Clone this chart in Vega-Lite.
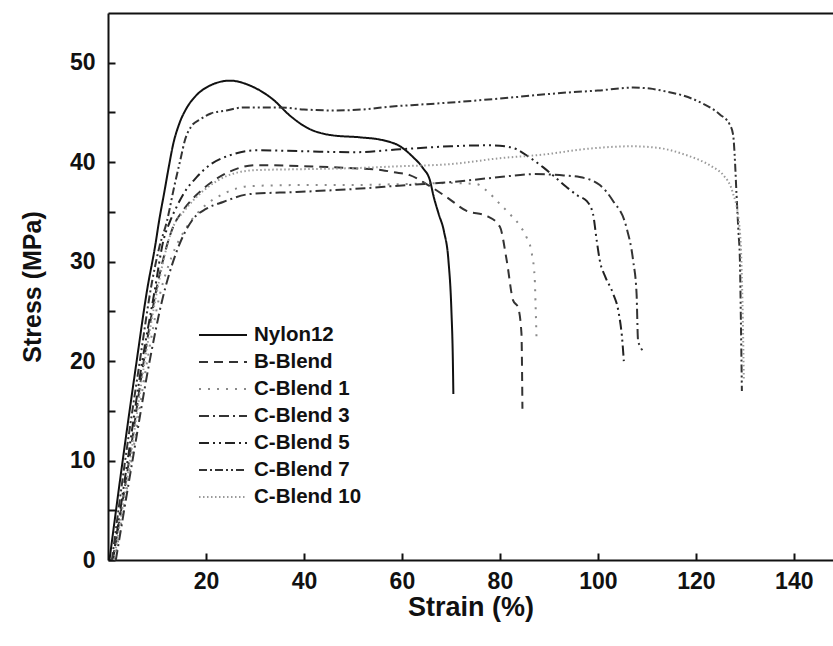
{
  "$schema": "https://vega.github.io/schema/vega-lite/v6.json",
  "width": 725,
  "height": 547,
  "autosize": {"type": "none"},
  "padding": {"left": 108, "top": 13, "right": 0, "bottom": 86},
  "background": "white",
  "config": {
    "view": {"stroke": null},
    "font": "Liberation Sans",
    "axis": {
      "grid": false,
      "domainColor": "#111",
      "domainWidth": 2,
      "tickColor": "#111",
      "tickWidth": 2,
      "tickSize": -7,
      "labelFont": "Liberation Sans",
      "labelFontWeight": "bold",
      "labelFontSize": 23,
      "labelColor": "#111",
      "titleFont": "Liberation Sans",
      "titleFontWeight": "bold",
      "titleFontSize": 25,
      "titleColor": "#111"
    },
    "legend": {
      "orient": "none",
      "legendX": 102,
      "legendY": 309,
      "title": null,
      "symbolType": "M-2,0H2",
      "symbolSize": 576,
      "labelFont": "Liberation Sans",
      "labelFontWeight": "bold",
      "labelFontSize": 20.5,
      "labelColor": "#111",
      "labelOffset": 18,
      "rowPadding": 3
    }
  },
  "data": {
    "values": [
      {"series": "Nylon12", "strain": 0.3, "stress": 0},
      {"series": "Nylon12", "strain": 3, "stress": 10},
      {"series": "Nylon12", "strain": 5.85, "stress": 20},
      {"series": "Nylon12", "strain": 8, "stress": 27.2},
      {"series": "Nylon12", "strain": 9.6, "stress": 31.5},
      {"series": "Nylon12", "strain": 10.5, "stress": 34.3},
      {"series": "Nylon12", "strain": 11.5, "stress": 37},
      {"series": "Nylon12", "strain": 12.4, "stress": 39.5},
      {"series": "Nylon12", "strain": 13.3, "stress": 41.8},
      {"series": "Nylon12", "strain": 14.5, "stress": 43.8},
      {"series": "Nylon12", "strain": 16, "stress": 45.4},
      {"series": "Nylon12", "strain": 17.8, "stress": 46.6},
      {"series": "Nylon12", "strain": 20.8, "stress": 47.7},
      {"series": "Nylon12", "strain": 24.9, "stress": 48.2},
      {"series": "Nylon12", "strain": 29, "stress": 47.7},
      {"series": "Nylon12", "strain": 33.7, "stress": 46.3},
      {"series": "Nylon12", "strain": 37.1, "stress": 44.7},
      {"series": "Nylon12", "strain": 40.5, "stress": 43.5},
      {"series": "Nylon12", "strain": 45.8, "stress": 42.7},
      {"series": "Nylon12", "strain": 51.4, "stress": 42.5},
      {"series": "Nylon12", "strain": 56.2, "stress": 42.2},
      {"series": "Nylon12", "strain": 59.6, "stress": 41.6},
      {"series": "Nylon12", "strain": 62.3, "stress": 40.5},
      {"series": "Nylon12", "strain": 64.3, "stress": 39.4},
      {"series": "Nylon12", "strain": 65.7, "stress": 38.2},
      {"series": "Nylon12", "strain": 66.5, "stress": 36.5},
      {"series": "Nylon12", "strain": 67.5, "stress": 34.8},
      {"series": "Nylon12", "strain": 68.6, "stress": 33},
      {"series": "Nylon12", "strain": 69.5, "stress": 30.1},
      {"series": "Nylon12", "strain": 70.1, "stress": 25.1},
      {"series": "Nylon12", "strain": 70.4, "stress": 20},
      {"series": "Nylon12", "strain": 70.5, "stress": 16.7},

      {"series": "B-Blend", "strain": 1, "stress": 0},
      {"series": "B-Blend", "strain": 4.3, "stress": 10},
      {"series": "B-Blend", "strain": 7.3, "stress": 20},
      {"series": "B-Blend", "strain": 10, "stress": 27.5},
      {"series": "B-Blend", "strain": 13.3, "stress": 33.5},
      {"series": "B-Blend", "strain": 15.4, "stress": 35.2},
      {"series": "B-Blend", "strain": 19.4, "stress": 37.3},
      {"series": "B-Blend", "strain": 24.2, "stress": 38.9},
      {"series": "B-Blend", "strain": 30.3, "stress": 39.7},
      {"series": "B-Blend", "strain": 40, "stress": 39.6},
      {"series": "B-Blend", "strain": 50, "stress": 39.4},
      {"series": "B-Blend", "strain": 56, "stress": 39.2},
      {"series": "B-Blend", "strain": 58.2, "stress": 39},
      {"series": "B-Blend", "strain": 61.6, "stress": 38.7},
      {"series": "B-Blend", "strain": 65, "stress": 37.8},
      {"series": "B-Blend", "strain": 69.1, "stress": 36.5},
      {"series": "B-Blend", "strain": 73.2, "stress": 35.1},
      {"series": "B-Blend", "strain": 77.3, "stress": 34.6},
      {"series": "B-Blend", "strain": 80, "stress": 33.5},
      {"series": "B-Blend", "strain": 81.4, "stress": 30.1},
      {"series": "B-Blend", "strain": 82.7, "stress": 26.1},
      {"series": "B-Blend", "strain": 83.7, "stress": 25.4},
      {"series": "B-Blend", "strain": 84.4, "stress": 22.8},
      {"series": "B-Blend", "strain": 84.6, "stress": 15.2},

      {"series": "C-Blend 1", "strain": 1.4, "stress": 0},
      {"series": "C-Blend 1", "strain": 4.8, "stress": 10},
      {"series": "C-Blend 1", "strain": 8, "stress": 20},
      {"series": "C-Blend 1", "strain": 10.5, "stress": 26.5},
      {"series": "C-Blend 1", "strain": 13, "stress": 30.5},
      {"series": "C-Blend 1", "strain": 16.1, "stress": 33.5},
      {"series": "C-Blend 1", "strain": 19.5, "stress": 35.5},
      {"series": "C-Blend 1", "strain": 23.5, "stress": 36.8},
      {"series": "C-Blend 1", "strain": 29, "stress": 37.6},
      {"series": "C-Blend 1", "strain": 40, "stress": 37.7},
      {"series": "C-Blend 1", "strain": 50, "stress": 37.7},
      {"series": "C-Blend 1", "strain": 60, "stress": 37.8},
      {"series": "C-Blend 1", "strain": 70, "stress": 37.9},
      {"series": "C-Blend 1", "strain": 75.2, "stress": 37.8},
      {"series": "C-Blend 1", "strain": 77.6, "stress": 37},
      {"series": "C-Blend 1", "strain": 80, "stress": 35.8},
      {"series": "C-Blend 1", "strain": 82, "stress": 34.8},
      {"series": "C-Blend 1", "strain": 84.1, "stress": 33.6},
      {"series": "C-Blend 1", "strain": 85.4, "stress": 32.5},
      {"series": "C-Blend 1", "strain": 86.4, "stress": 31.1},
      {"series": "C-Blend 1", "strain": 87.1, "stress": 28.4},
      {"series": "C-Blend 1", "strain": 87.3, "stress": 25.4},
      {"series": "C-Blend 1", "strain": 87.5, "stress": 21.9},

      {"series": "C-Blend 3", "strain": 1.6, "stress": 0},
      {"series": "C-Blend 3", "strain": 5, "stress": 10},
      {"series": "C-Blend 3", "strain": 8.5, "stress": 20},
      {"series": "C-Blend 3", "strain": 11, "stress": 26},
      {"series": "C-Blend 3", "strain": 14, "stress": 31},
      {"series": "C-Blend 3", "strain": 17.4, "stress": 34.3},
      {"series": "C-Blend 3", "strain": 20, "stress": 35.3},
      {"series": "C-Blend 3", "strain": 23.5, "stress": 36},
      {"series": "C-Blend 3", "strain": 29, "stress": 36.8},
      {"series": "C-Blend 3", "strain": 38.5, "stress": 37},
      {"series": "C-Blend 3", "strain": 50, "stress": 37.3},
      {"series": "C-Blend 3", "strain": 61, "stress": 37.7},
      {"series": "C-Blend 3", "strain": 70, "stress": 38},
      {"series": "C-Blend 3", "strain": 80, "stress": 38.5},
      {"series": "C-Blend 3", "strain": 86.8, "stress": 38.8},
      {"series": "C-Blend 3", "strain": 92.2, "stress": 38.7},
      {"series": "C-Blend 3", "strain": 96.3, "stress": 38.5},
      {"series": "C-Blend 3", "strain": 100.4, "stress": 37.7},
      {"series": "C-Blend 3", "strain": 103.1, "stress": 36.1},
      {"series": "C-Blend 3", "strain": 105.8, "stress": 33.5},
      {"series": "C-Blend 3", "strain": 107.2, "stress": 30.1},
      {"series": "C-Blend 3", "strain": 107.9, "stress": 26.8},
      {"series": "C-Blend 3", "strain": 108.2, "stress": 22.1},
      {"series": "C-Blend 3", "strain": 109.1, "stress": 21.1},

      {"series": "C-Blend 5", "strain": 1, "stress": 0},
      {"series": "C-Blend 5", "strain": 4, "stress": 10},
      {"series": "C-Blend 5", "strain": 7, "stress": 20},
      {"series": "C-Blend 5", "strain": 9.5, "stress": 27},
      {"series": "C-Blend 5", "strain": 11.3, "stress": 32.1},
      {"series": "C-Blend 5", "strain": 12.7, "stress": 34.1},
      {"series": "C-Blend 5", "strain": 14, "stress": 35.5},
      {"series": "C-Blend 5", "strain": 15.4, "stress": 36.8},
      {"series": "C-Blend 5", "strain": 18.1, "stress": 38.5},
      {"series": "C-Blend 5", "strain": 21, "stress": 39.8},
      {"series": "C-Blend 5", "strain": 24.9, "stress": 40.7},
      {"series": "C-Blend 5", "strain": 30.3, "stress": 41.2},
      {"series": "C-Blend 5", "strain": 40, "stress": 41.1},
      {"series": "C-Blend 5", "strain": 50, "stress": 41},
      {"series": "C-Blend 5", "strain": 59.6, "stress": 41.3},
      {"series": "C-Blend 5", "strain": 70, "stress": 41.6},
      {"series": "C-Blend 5", "strain": 78, "stress": 41.7},
      {"series": "C-Blend 5", "strain": 81, "stress": 41.6},
      {"series": "C-Blend 5", "strain": 83.4, "stress": 41.3},
      {"series": "C-Blend 5", "strain": 86, "stress": 40.5},
      {"series": "C-Blend 5", "strain": 88.8, "stress": 39.5},
      {"series": "C-Blend 5", "strain": 91, "stress": 38.6},
      {"series": "C-Blend 5", "strain": 93.6, "stress": 37.5},
      {"series": "C-Blend 5", "strain": 96, "stress": 36.6},
      {"series": "C-Blend 5", "strain": 97.7, "stress": 36.1},
      {"series": "C-Blend 5", "strain": 99, "stress": 34.8},
      {"series": "C-Blend 5", "strain": 99.8, "stress": 32},
      {"series": "C-Blend 5", "strain": 100.4, "stress": 30.1},
      {"series": "C-Blend 5", "strain": 101.5, "stress": 28.5},
      {"series": "C-Blend 5", "strain": 103.1, "stress": 26.8},
      {"series": "C-Blend 5", "strain": 104.2, "stress": 25},
      {"series": "C-Blend 5", "strain": 105, "stress": 22},
      {"series": "C-Blend 5", "strain": 105.3, "stress": 20},

      {"series": "C-Blend 7", "strain": 0.8, "stress": 0},
      {"series": "C-Blend 7", "strain": 3.5, "stress": 10},
      {"series": "C-Blend 7", "strain": 6.5, "stress": 20},
      {"series": "C-Blend 7", "strain": 9, "stress": 28},
      {"series": "C-Blend 7", "strain": 10.5, "stress": 31.5},
      {"series": "C-Blend 7", "strain": 12, "stress": 34},
      {"series": "C-Blend 7", "strain": 13.5, "stress": 37.5},
      {"series": "C-Blend 7", "strain": 14.8, "stress": 40.3},
      {"series": "C-Blend 7", "strain": 15.7, "stress": 42.2},
      {"series": "C-Blend 7", "strain": 17, "stress": 43.6},
      {"series": "C-Blend 7", "strain": 18.8, "stress": 44.3},
      {"series": "C-Blend 7", "strain": 21, "stress": 44.9},
      {"series": "C-Blend 7", "strain": 24.2, "stress": 45.2},
      {"series": "C-Blend 7", "strain": 27.6, "stress": 45.5},
      {"series": "C-Blend 7", "strain": 35, "stress": 45.5},
      {"series": "C-Blend 7", "strain": 40, "stress": 45.3},
      {"series": "C-Blend 7", "strain": 46, "stress": 45.2},
      {"series": "C-Blend 7", "strain": 52, "stress": 45.3},
      {"series": "C-Blend 7", "strain": 58, "stress": 45.6},
      {"series": "C-Blend 7", "strain": 64, "stress": 45.8},
      {"series": "C-Blend 7", "strain": 70, "stress": 46},
      {"series": "C-Blend 7", "strain": 80, "stress": 46.4},
      {"series": "C-Blend 7", "strain": 93.6, "stress": 47},
      {"series": "C-Blend 7", "strain": 100, "stress": 47.2},
      {"series": "C-Blend 7", "strain": 107.2, "stress": 47.5},
      {"series": "C-Blend 7", "strain": 110.6, "stress": 47.4},
      {"series": "C-Blend 7", "strain": 114, "stress": 47.1},
      {"series": "C-Blend 7", "strain": 117.4, "stress": 46.7},
      {"series": "C-Blend 7", "strain": 121, "stress": 46},
      {"series": "C-Blend 7", "strain": 124.9, "stress": 44.8},
      {"series": "C-Blend 7", "strain": 126.9, "stress": 43.8},
      {"series": "C-Blend 7", "strain": 127.6, "stress": 42.8},
      {"series": "C-Blend 7", "strain": 128, "stress": 40},
      {"series": "C-Blend 7", "strain": 128.3, "stress": 36.8},
      {"series": "C-Blend 7", "strain": 128.7, "stress": 33},
      {"series": "C-Blend 7", "strain": 129, "stress": 30.1},
      {"series": "C-Blend 7", "strain": 129.2, "stress": 24},
      {"series": "C-Blend 7", "strain": 129.4, "stress": 17},

      {"series": "C-Blend 10", "strain": 1.2, "stress": 0},
      {"series": "C-Blend 10", "strain": 4.5, "stress": 10},
      {"series": "C-Blend 10", "strain": 7.5, "stress": 20},
      {"series": "C-Blend 10", "strain": 10, "stress": 27},
      {"series": "C-Blend 10", "strain": 12, "stress": 31.5},
      {"series": "C-Blend 10", "strain": 13.3, "stress": 33.5},
      {"series": "C-Blend 10", "strain": 15.4, "stress": 35},
      {"series": "C-Blend 10", "strain": 19.4, "stress": 37.1},
      {"series": "C-Blend 10", "strain": 24.2, "stress": 38.6},
      {"series": "C-Blend 10", "strain": 30, "stress": 39.2},
      {"series": "C-Blend 10", "strain": 40, "stress": 39.3},
      {"series": "C-Blend 10", "strain": 50, "stress": 39.4},
      {"series": "C-Blend 10", "strain": 60, "stress": 39.6},
      {"series": "C-Blend 10", "strain": 69.8, "stress": 39.8},
      {"series": "C-Blend 10", "strain": 80, "stress": 40.4},
      {"series": "C-Blend 10", "strain": 89.5, "stress": 40.8},
      {"series": "C-Blend 10", "strain": 97, "stress": 41.3},
      {"series": "C-Blend 10", "strain": 107.2, "stress": 41.6},
      {"series": "C-Blend 10", "strain": 111, "stress": 41.5},
      {"series": "C-Blend 10", "strain": 114, "stress": 41.3},
      {"series": "C-Blend 10", "strain": 117.5, "stress": 40.8},
      {"series": "C-Blend 10", "strain": 120.8, "stress": 40.2},
      {"series": "C-Blend 10", "strain": 123.5, "stress": 39.5},
      {"series": "C-Blend 10", "strain": 125.6, "stress": 38.7},
      {"series": "C-Blend 10", "strain": 127.5, "stress": 37},
      {"series": "C-Blend 10", "strain": 128.8, "stress": 34},
      {"series": "C-Blend 10", "strain": 129.3, "stress": 30},
      {"series": "C-Blend 10", "strain": 129.6, "stress": 24},
      {"series": "C-Blend 10", "strain": 129.8, "stress": 18}
    ]
  },
  "layer": [
    {
      "mark": {"type": "line", "interpolate": "monotone"},
      "encoding": {
        "x": {
          "field": "strain", "type": "quantitative",
          "scale": {"domain": [0, 148], "nice": false, "zero": false},
          "axis": {"orient": "bottom", "values": [20, 40, 60, 80, 100, 120, 140], "title": "Strain (%)", "titleFontSize": 27, "labelPadding": 17, "titlePadding": 1}
        },
        "y": {
          "field": "stress", "type": "quantitative",
          "scale": {"domain": [0, 55], "nice": false},
          "axis": {"values": [0, 5, 10, 15, 20, 25, 30, 35, 40, 45, 50], "labelExpr": "datum.value % 10 == 0 ? datum.label : ''", "title": "Stress (MPa)", "labelPadding": 20, "titlePadding": 24}
        },
        "color": {
          "field": "series", "type": "nominal",
          "scale": {"domain": ["Nylon12", "B-Blend", "C-Blend 1", "C-Blend 3", "C-Blend 5", "C-Blend 7", "C-Blend 10"],
                    "range": ["#111111", "#333333", "#8a8a8a", "#333333", "#222222", "#333333", "#9a9a9a"]}
        },
        "strokeDash": {
          "field": "series", "type": "nominal",
          "scale": {"domain": ["Nylon12", "B-Blend", "C-Blend 1", "C-Blend 3", "C-Blend 5", "C-Blend 7", "C-Blend 10"],
                    "range": [[1, 0], [9, 6], [2, 7], [10, 4, 2, 4], [10, 4, 2, 4, 2, 4], [8, 3, 2, 3, 8, 3, 2, 3, 2, 3], [1.5, 2.5]]}
        },
        "strokeWidth": {
          "field": "series", "type": "nominal",
          "scale": {"domain": ["Nylon12", "B-Blend", "C-Blend 1", "C-Blend 3", "C-Blend 5", "C-Blend 7", "C-Blend 10"],
                    "range": [2, 2, 1.6, 2, 2.5, 2.2, 1.5]}
        }
      }
    },
    {
      "mark": {"type": "point", "opacity": 0},
      "encoding": {
        "x": {
          "field": "strain", "type": "quantitative",
          "scale": {"domain": [0, 148], "nice": false, "zero": false},
          "axis": {"orient": "top", "labels": false, "ticks": false, "title": null}
        }
      }
    }
  ],
  "resolve": {"axis": {"x": "independent"}}
}
